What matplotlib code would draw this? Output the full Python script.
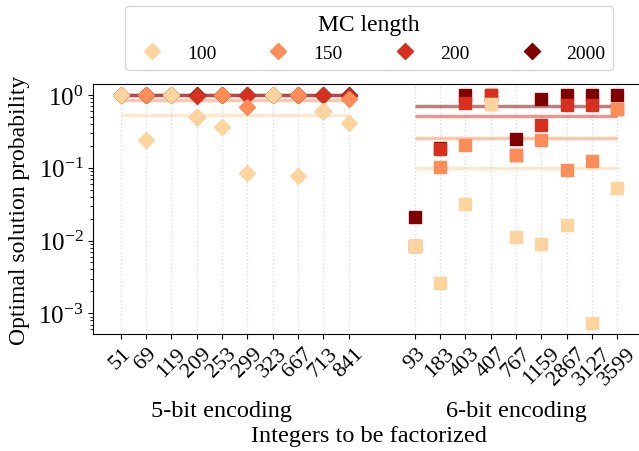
import matplotlib
matplotlib.use('Agg')
import matplotlib.pyplot as plt
from matplotlib.lines import Line2D
import matplotlib.transforms as mtransforms
import numpy as np

plt.rcParams['font.family'] = 'Liberation Serif'
plt.rcParams['mathtext.fontset'] = 'stix'

# integers factorized, per encoding
labels_5bit = ['51', '69', '119', '209', '253', '299', '323', '667', '713', '841']
labels_6bit = ['93', '183', '403', '407', '767', '1159', '2867', '3127', '3599']
mc_lengths = ['100', '150', '200', '2000']
colors = ['#fdd49e', '#fc8d59', '#d7301f', '#7f0000']

# optimal solution probability, 5-bit encoding
p5_100 = [1.0, 0.243, 1.0, 0.498, 0.363, 0.085, 1.0, 0.077, 0.608, 0.416]
p5_150 = [1.0, 1.0, 1.0, 0.498, 1.0, 0.675, 1.0, 1.0, 0.608, 0.88]
p5_200 = [1.0, 1.0, 1.0, 0.96, 1.0, 1.0, 1.0, 1.0, 1.0, 0.96]
p5_2000 = [1.0, 1.0, 1.0, 1.0, 1.0, 1.0, 1.0, 1.0, 1.0, 1.0]

# 6-bit encoding
p6_100 = [0.0085, 0.0026, 0.032, 0.76, 0.0111, 0.009, 0.0166, 0.00073, 0.053]
p6_150 = [0.0085, 0.102, 0.203, 0.76, 0.151, 0.243, 0.092, 0.125, 0.648]
p6_200 = [0.0085, 0.182, 0.776, 1.0, 0.151, 0.382, 0.72, 0.72, 0.648]
p6_2000 = [0.0214, 0.185, 1.0, 1.0, 0.245, 0.87, 1.0, 1.0, 1.0]

gap = 2.62  # extra spacing between the two groups
x5 = np.arange(len(labels_5bit))
x6 = np.arange(len(labels_6bit)) + x5[-1] + gap

fig = plt.figure(figsize=(6.39, 4.52), dpi=100)
ax = fig.add_axes([0.146, 0.259, 0.863, 0.552])

groups = [
    (x5, [p5_100, p5_150, p5_200, p5_2000], 'D'),
    (x6, [p6_100, p6_150, p6_200, p6_2000], 's'),
]

for xs, vals, marker in groups:
    # mean lines
    for k in range(4):
        ax.hlines(np.mean(vals[k]), xs[0], xs[-1], color=colors[k], alpha=0.5,
                  lw=2.5, zorder=2)
    # points, larger probabilities first so smaller ones sit on top
    for i, x in enumerate(xs):
        order = sorted([3, 2, 1, 0], key=lambda k: -vals[k][i])
        for k in order:
            ax.plot(x, vals[k][i], marker=marker, ms=8, color=colors[k],
                    ls='none', zorder=3)

ax.set_yscale('log')
ax.set_ylim(5.2e-4, 1.4)
ax.set_xlim(-1.08, 20.70)
ax.set_xticks(np.concatenate([x5, x6]))
ax.set_xticklabels(labels_5bit + labels_6bit, rotation=45, fontsize=16)
ax.tick_params(axis='y', labelsize=18)
ax.grid(axis='x', ls=':', color='#dddddd', lw=1)
ax.set_axisbelow(True)
ax.set_ylabel('Optimal solution probability', fontsize=17, labelpad=6)

trans = mtransforms.blended_transform_factory(ax.transData, ax.transAxes)
ax.text(x5[4], -0.305, '5-bit encoding', transform=trans, ha='center', va='center', fontsize=17.5)
ax.text(x6[4], -0.305, '6-bit encoding', transform=trans, ha='center', va='center', fontsize=17.5)
ax.text(0.5, -0.409, 'Integers to be factorized', transform=ax.transAxes,
        ha='center', va='center', fontsize=17.5)

handles = [Line2D([], [], marker='D', ls='none', ms=8, color=c) for c in colors]
ax.legend(handles, mc_lengths, title='MC length', ncol=4, loc='upper center',
          bbox_to_anchor=(0.5, 1.354), fontsize=14, title_fontsize=17,
          columnspacing=2.2, handletextpad=0.8)

fig.savefig('out.png', dpi=100)
